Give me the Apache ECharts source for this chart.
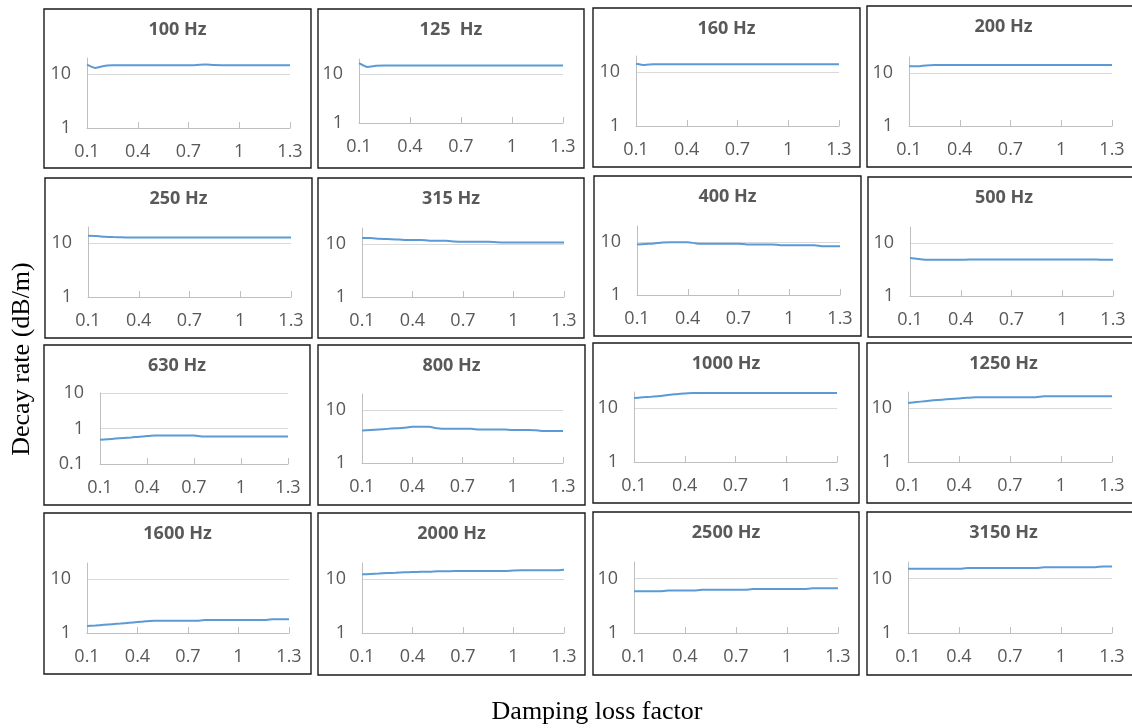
<!DOCTYPE html>
<html>
<head>
<meta charset="utf-8">
<script src="https://cdn.jsdelivr.net/npm/echarts@6/dist/echarts.min.js"></script>
<style>
  html, body { margin: 0; padding: 0; background: #fff; }
  #chart { width: 1132px; height: 728px; }
</style>
</head>
<body>
<div id="chart"></div>
<script>
// Damping loss factor (x categories)
const damping = ['0.1','0.15','0.2','0.25','0.3','0.35','0.4','0.45','0.5','0.55','0.6','0.65','0.7',
                 '0.75','0.8','0.85','0.9','0.95','1','1.05','1.1','1.15','1.2','1.25','1.3'];

// Panel titles (one-third octave band centre frequencies)
const bands = ['100 Hz','125  Hz','160 Hz','200 Hz','250 Hz','315 Hz','400 Hz','500 Hz',
               '630 Hz','800 Hz','1000 Hz','1250 Hz','1600 Hz','2000 Hz','2500 Hz','3150 Hz'];

// Decay rate (dB/m) for each band
const hz100  = [15.1,13.1,14.2,14.6,14.7,14.7,14.7,14.7,14.7,14.7,14.7,14.7,14.7,14.9,15.2,14.8,14.7,14.7,14.7,14.7,14.7,14.7,14.7,14.7,14.7];
const hz125  = [16.5,13.8,14.5,14.8,14.8,14.8,14.8,14.8,14.8,14.8,14.8,14.8,14.8,14.8,14.8,14.8,14.8,14.8,14.8,14.8,14.8,14.8,14.8,14.8,14.8];
const hz160  = [14.4,13.6,14.0,14.1,14.1,14.1,14.1,14.1,14.1,14.1,14.1,14.1,14.1,14.1,14.1,14.1,14.1,14.1,14.1,14.1,14.1,14.1,14.1,14.1,14.1];
const hz200  = [13.4,13.4,13.9,14.1,14.1,14.1,14.1,14.1,14.1,14.1,14.1,14.1,14.1,14.1,14.1,14.1,14.1,14.1,14.1,14.1,14.1,14.1,14.1,14.1,14.1];
const hz250  = [13.7,13.6,13.2,13.0,12.9,12.7,12.7,12.7,12.7,12.7,12.7,12.7,12.7,12.7,12.7,12.7,12.7,12.7,12.7,12.7,12.7,12.7,12.7,12.7,12.7];
const hz315  = [12.9,12.9,12.5,12.4,12.2,11.9,11.9,11.9,11.5,11.5,11.5,11.1,11.0,11.0,11.0,11.0,10.8,10.7,10.7,10.7,10.7,10.7,10.7,10.7,10.7];
const hz400  = [9.0,9.2,9.4,9.8,9.9,9.9,9.9,9.4,9.3,9.3,9.3,9.3,9.3,9.0,9.0,9.0,9.0,8.7,8.7,8.7,8.7,8.7,8.3,8.3,8.3];
const hz500  = [5.2,5.0,4.8,4.8,4.8,4.8,4.8,4.9,4.9,4.9,4.9,4.9,4.9,4.9,4.9,4.9,4.9,4.9,4.9,4.9,4.9,4.9,4.9,4.8,4.8];
const hz630  = [0.48,0.50,0.52,0.54,0.56,0.59,0.61,0.63,0.63,0.63,0.63,0.63,0.63,0.60,0.60,0.60,0.60,0.60,0.60,0.60,0.60,0.60,0.60,0.60,0.60];
const hz800  = [4.1,4.2,4.3,4.4,4.5,4.6,4.8,4.8,4.8,4.5,4.4,4.4,4.4,4.4,4.3,4.3,4.3,4.3,4.2,4.2,4.2,4.1,4.0,4.0,4.0];
const hz1000 = [15.5,15.9,16.3,16.8,17.6,18.2,18.8,19.2,19.2,19.2,19.2,19.2,19.2,19.2,19.2,19.2,19.2,19.2,19.2,19.2,19.2,19.2,19.2,19.2,19.2];
const hz1250 = [12.5,13.0,13.5,14.0,14.4,14.8,15.2,15.6,16.0,16.0,16.0,16.0,16.0,16.0,16.0,16.0,16.6,16.6,16.6,16.6,16.6,16.6,16.6,16.6,16.6];
const hz1600 = [1.35,1.38,1.42,1.46,1.50,1.55,1.60,1.65,1.69,1.69,1.69,1.69,1.69,1.69,1.74,1.74,1.74,1.74,1.74,1.74,1.74,1.74,1.80,1.80,1.80];
const hz2000 = [12.3,12.5,12.7,13.0,13.2,13.4,13.6,13.8,13.8,14.0,14.0,14.2,14.2,14.2,14.2,14.2,14.2,14.2,14.5,14.6,14.6,14.6,14.6,14.6,15.0];
const hz2500 = [5.8,5.8,5.8,5.8,6.0,6.0,6.0,6.0,6.2,6.2,6.2,6.2,6.2,6.2,6.4,6.4,6.4,6.4,6.4,6.4,6.4,6.6,6.6,6.6,6.6];
const hz3150 = [15.0,15.0,15.0,15.0,15.0,15.0,15.0,15.5,15.5,15.5,15.5,15.5,15.5,15.5,15.5,15.5,16.0,16.0,16.0,16.0,16.0,16.0,16.0,16.6,16.6];

const bandData = [hz100, hz125, hz160, hz200, hz250, hz315, hz400, hz500,
                  hz630, hz800, hz1000, hz1250, hz1600, hz2000, hz2500, hz3150];

// Log y-axis ranges per panel
const yMin = [1,1,1,1, 1,1,1,1, 0.1,1,1,1, 1,1,1,1];
const yMax = [20,20,20,20, 20,20,20,20, 10,20,20,20, 20,20,20,20];

// Panel frames [x0, y0, x1, y1] and plot areas [left, right, top, bottom]
const frames = [
  [44,9,311,168],[318,9,584,168],[593,8,860,167],[867,6,1140,167],
  [45,178,312,338],[318,178,584,338],[594,176,861,336],[868,177,1140,337],
  [44,345,310,505],[318,345,585,505],[593,343,859,503],[867,343,1140,503],
  [44,513,311,674],[318,513,585,675],[593,512,859,675],[867,512,1140,675]
];
const plots = [
  [87,290,58,128],[359,563,59,123],[636,839,56,126],[909,1112,57,126],
  [88,291,227,297],[362,564,228,297],[637,840,226,295],[910,1113,227,296],
  [100,288,393,464],[362,563,394,463],[634,837,392,462],[908,1112,392,462],
  [87,289,563,633],[362,564,563,633],[634,838,562,633],[908,1112,562,633]
];

const FONT = '"Open Sans", sans-serif';
const SERIF = '"Liberation Serif", "Times New Roman", serif';
const TXT = '#595959';

const grid = [], xAxis = [], yAxis = [], series = [], graphic = [];

bandData.forEach((vals, i) => {
  const p = plots[i];
  const f = frames[i];
  grid.push({ left: p[0], top: p[2], width: p[1] - p[0], height: p[3] - p[2], containLabel: false });
  xAxis.push({
    type: 'category', gridIndex: i, data: damping, boundaryGap: false,
    axisLine: { show: true, lineStyle: { color: '#bfbfbf', width: 1 } },
    axisTick: { show: true, inside: true, length: 6, interval: 5, lineStyle: { color: '#bfbfbf' } },
    axisLabel: { interval: 5, color: TXT, fontFamily: FONT, fontSize: 18, margin: 15 },
    splitLine: { show: false }
  });
  yAxis.push({
    type: 'log', logBase: 10, gridIndex: i, min: yMin[i], max: yMax[i],
    axisLine: { show: true, lineStyle: { color: '#bfbfbf', width: 1 } },
    axisTick: { show: false },
    axisLabel: { color: TXT, fontFamily: FONT, fontSize: 18, margin: 16, showMaxLabel: yMax[i] === 10 },
    splitLine: { show: true, showMinLine: false, showMaxLine: yMax[i] === 10, lineStyle: { color: '#d9d9d9', width: 1 } }
  });
  series.push({
    type: 'line', xAxisIndex: i, yAxisIndex: i, data: vals,
    showSymbol: false, smooth: 0.2, silent: true,
    lineStyle: { color: '#5b9bd5', width: 2 }
  });
  graphic.push({
    type: 'rect', silent: true,
    shape: { x: f[0], y: f[1], width: f[2] - f[0], height: f[3] - f[1] },
    style: { fill: null, stroke: '#1a1a1a', lineWidth: 1.4 }
  });
  graphic.push({
    type: 'text', silent: true,
    x: (f[0] + f[2]) / 2, y: f[1] + 21,
    style: { text: bands[i], fill: TXT, font: 'bold 18px ' + FONT, textAlign: 'center', textVerticalAlign: 'middle' }
  });
});

// Shared axis titles
graphic.push({
  type: 'text', silent: true, x: 22, y: 359, rotation: Math.PI / 2,
  style: { text: 'Decay rate (dB/m)', fill: '#000', font: '26px ' + SERIF,
           textAlign: 'center', textVerticalAlign: 'middle' }
});
graphic.push({
  type: 'text', silent: true, x: 597, y: 712,
  style: { text: 'Damping loss factor', fill: '#000', font: '26px ' + SERIF,
           textAlign: 'center', textVerticalAlign: 'middle' }
});

const chart = echarts.init(document.getElementById('chart'), null, { renderer: 'canvas' });
chart.setOption({
  animation: false,
  backgroundColor: '#fff',
  grid, xAxis, yAxis, series, graphic
});
</script>
</body>
</html>
